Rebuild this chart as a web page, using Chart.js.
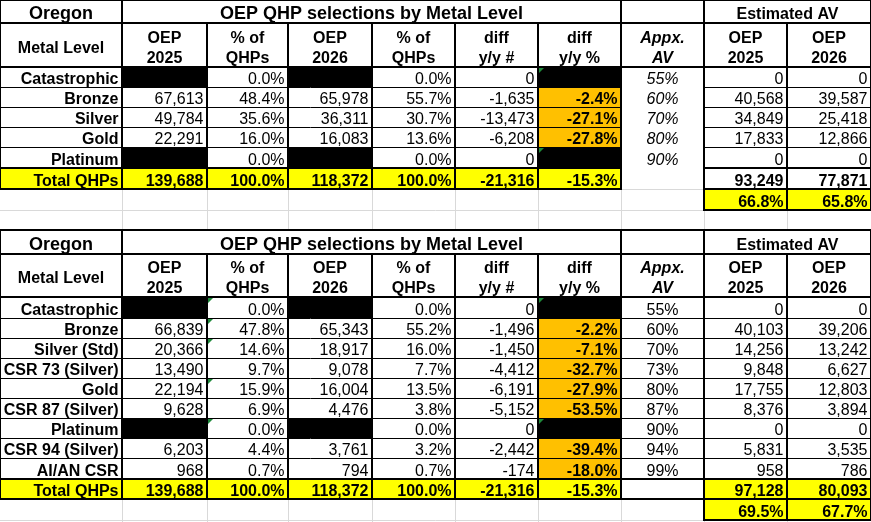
<!DOCTYPE html>
<html>
<head>
<meta charset="utf-8">
<title>Oregon OEP QHP selections by Metal Level</title>
<script src="https://cdn.jsdelivr.net/npm/chart.js@4.4.1/dist/chart.umd.min.js"></script>
<style>
  html, body { margin: 0; padding: 0; background: #fff; }
  #wrap { width: 871px; height: 522px; }
</style>
</head>
<body>
<div id="wrap"><canvas id="sheet" width="871" height="522"></canvas></div>
<script>
// ---- text ----
const stateName = "Oregon";
const tableTitle = "OEP QHP selections by Metal Level";
const avTitle = "Estimated AV";
const totalLabel = "Total QHPs";
const columnHeads = [
  ["Metal Level"], ["OEP", "2025"], ["% of", "QHPs"], ["OEP", "2026"], ["% of", "QHPs"],
  ["diff", "y/y #"], ["diff", "y/y %"], ["Appx.", "AV"], ["OEP", "2025"], ["OEP", "2026"]
];

// ---- upper table (by metal level) ----
const levelsTop = ["Catastrophic", "Bronze", "Silver", "Gold", "Platinum"];
const oep2025Top = [null, 67613, 49784, 22291, null];
const share2025Top = [0.0, 48.4, 35.6, 16.0, 0.0];
const oep2026Top = [null, 65978, 36311, 16083, null];
const share2026Top = [0.0, 55.7, 30.7, 13.6, 0.0];
const diffNumTop = [0, -1635, -13473, -6208, 0];
const diffPctTop = [null, -2.4, -27.1, -27.8, null];
const appxAVTop = [55, 60, 70, 80, 90];
const estAV2025Top = [0, 40568, 34849, 17833, 0];
const estAV2026Top = [0, 39587, 25418, 12866, 0];
const totalsTop = [139688, 100.0, 118372, 100.0, -21316, -15.3];
const estAVTotalsTop = [93249, 77871];
const avShareTop = [66.8, 65.8];

// ---- lower table (CSR split out) ----
const levelsBottom = ["Catastrophic", "Bronze", "Silver (Std)", "CSR 73 (Silver)", "Gold",
  "CSR 87 (Silver)", "Platinum", "CSR 94 (Silver)", "AI/AN CSR"];
const oep2025Bottom = [null, 66839, 20366, 13490, 22194, 9628, null, 6203, 968];
const share2025Bottom = [0.0, 47.8, 14.6, 9.7, 15.9, 6.9, 0.0, 4.4, 0.7];
const oep2026Bottom = [null, 65343, 18917, 9078, 16004, 4476, null, 3761, 794];
const share2026Bottom = [0.0, 55.2, 16.0, 7.7, 13.5, 3.8, 0.0, 3.2, 0.7];
const diffNumBottom = [0, -1496, -1450, -4412, -6191, -5152, 0, -2442, -174];
const diffPctBottom = [null, -2.2, -7.1, -32.7, -27.9, -53.5, null, -39.4, -18.0];
const appxAVBottom = [55, 60, 70, 73, 80, 87, 90, 94, 99];
const estAV2025Bottom = [0, 40103, 14256, 9848, 17755, 8376, 0, 5831, 958];
const estAV2026Bottom = [0, 39206, 13242, 6627, 12803, 3894, 0, 3535, 786];
const totalsBottom = [139688, 100.0, 118372, 100.0, -21316, -15.3];
const estAVTotalsBottom = [97128, 80093];
const avShareBottom = [69.5, 67.7];

// ---- layout (sheet units = px) ----
const colEdges = [0, 122, 207, 288, 372, 455, 538, 621, 704, 787, 871];
const rowEdgesTop = [0, 23, 67, 87, 107, 127, 147, 168, 189, 210, 230];
const rowEdgesBottom = [230, 254, 297, 318, 338, 358, 378, 398, 418, 438, 458, 479, 499, 520];

const YELLOW = "#ffff00", ORANGE = "#ffc000", BLACK = "#000000", WHITE = "#ffffff";
const GRID = "#d9d9d9", FLAG = "#1f8a3b";
const FAMILY = "'Liberation Sans', Arial, sans-serif";
const TH = 2, TN = 1;

const tables = [
  {
    levels: levelsTop, oep2025: oep2025Top, share2025: share2025Top, oep2026: oep2026Top,
    share2026: share2026Top, diffNum: diffNumTop, diffPct: diffPctTop, appxAV: appxAVTop,
    estAV2025: estAV2025Top, estAV2026: estAV2026Top, totals: totalsTop,
    estAVTotals: estAVTotalsTop, avShare: avShareTop,
    rows: rowEdgesTop, italicAV: true, avBorders: false, yellowAVTotals: false,
    flags: [[0, 6], [4, 6]]
  },
  {
    levels: levelsBottom, oep2025: oep2025Bottom, share2025: share2025Bottom, oep2026: oep2026Bottom,
    share2026: share2026Bottom, diffNum: diffNumBottom, diffPct: diffPctBottom, appxAV: appxAVBottom,
    estAV2025: estAV2025Bottom, estAV2026: estAV2026Bottom, totals: totalsBottom,
    estAVTotals: estAVTotalsBottom, avShare: avShareBottom,
    rows: rowEdgesBottom, italicAV: false, avBorders: true, yellowAVTotals: true,
    flags: [[0, 2], [1, 2], [2, 2], [4, 2], [6, 2], [0, 6], [6, 6]]
  }
];

const num = (v) => v.toLocaleString("en-US");
const pct = (v) => v.toFixed(1) + "%";

function buildTable(t) {
  const R = t.rows, C = colEdges;
  const n = t.levels.length;
  const tTop = 2 + n, tBot = 3 + n, sBot = 4 + n;
  const cells = [];
  const add = (c0, c1, r0, r1, text, opts = {}) =>
    cells.push(Object.assign({
      x0: C[c0], x1: C[c1], y0: R[r0], y1: R[r1], text,
      font: "16px", align: "right", fill: WHITE, kind: "data"
    }, opts));

  add(0, 1, 0, 1, [stateName], { font: "bold 18px", align: "center", kind: "title" });
  add(1, 7, 0, 1, [tableTitle], { font: "bold 18px", align: "center", kind: "title" });
  add(7, 8, 0, 1, []);
  add(8, 10, 0, 1, [avTitle], { font: "bold 16px", align: "center", kind: "title" });
  columnHeads.forEach((h, i) =>
    add(i, i + 1, 1, 2, h, { font: i === 7 ? "italic bold 16px" : "bold 16px", align: "center", kind: "head" }));

  t.levels.forEach((lvl, i) => {
    const r = 2 + i;
    const blankOr = (v, fmt, opts) => (v == null ? [[], { fill: BLACK }] : [[fmt(v)], opts || {}]);
    add(0, 1, r, r + 1, [lvl], { font: "bold 16px" });
    add(1, 2, r, r + 1, ...blankOr(t.oep2025[i], num));
    add(2, 3, r, r + 1, [pct(t.share2025[i])]);
    add(3, 4, r, r + 1, ...blankOr(t.oep2026[i], num));
    add(4, 5, r, r + 1, [pct(t.share2026[i])]);
    add(5, 6, r, r + 1, [num(t.diffNum[i])]);
    add(6, 7, r, r + 1, ...blankOr(t.diffPct[i], pct, { fill: ORANGE, font: "bold 16px" }));
    add(7, 8, r, r + 1, [t.appxAV[i] + "%"], { align: "center", font: t.italicAV ? "italic 16px" : "16px" });
    add(8, 9, r, r + 1, [num(t.estAV2025[i])]);
    add(9, 10, r, r + 1, [num(t.estAV2026[i])]);
  });

  add(0, 1, tTop, tBot, [totalLabel], { font: "bold 16px", fill: YELLOW });
  t.totals.forEach((v, i) =>
    add(i + 1, i + 2, tTop, tBot, [i % 2 === 1 ? pct(v) : num(v)], { font: "bold 16px", fill: YELLOW }));
  add(7, 8, tTop, tBot, []);
  t.estAVTotals.forEach((v, i) =>
    add(8 + i, 9 + i, tTop, tBot, [num(v)], { font: "bold 16px", fill: t.yellowAVTotals ? YELLOW : WHITE }));
  t.avShare.forEach((v, i) =>
    add(8 + i, 9 + i, tBot, sBot, [pct(v)], { font: "bold 16px", fill: YELLOW }));

  // borders
  const lines = [];
  const h = (c0, c1, r, w) => lines.push([C[c0], R[r], C[c1], R[r], w]);
  const v = (c, r0, r1, w) => lines.push([C[c], R[r0], C[c], R[r1], w]);
  [0, 1, 7, 8, 10].forEach((c) => v(c, 0, tBot, TH));
  [2, 3, 4, 5, 6, 9].forEach((c) => v(c, 1, tBot, TH));
  [8, 9, 10].forEach((c) => v(c, tBot, sBot, TH));
  [0, 1, 2].forEach((r) => h(0, 10, r, TH));
  [tTop, tBot].forEach((r) => {
    h(0, 7, r, TH); h(8, 10, r, TH);
    if (t.avBorders) h(7, 8, r, TH);
  });
  for (let r = 3; r < tTop; r++) {
    h(0, 7, r, TN); h(8, 10, r, TN);
    if (t.avBorders) h(7, 8, r, TN);
  }
  h(8, 10, sBot, TH);
  return { cells, lines };
}

const sheetPlugin = {
  id: "sheet",
  beforeDraw(chart) {
    const ctx = chart.ctx;
    ctx.save();
    ctx.fillStyle = WHITE;
    ctx.fillRect(0, 0, chart.width, chart.height);
    ctx.restore();
  },
  afterDraw(chart) {
    const { ctx, scales: { x, y } } = chart;
    const px = (v) => x.getPixelForValue(v);
    const py = (v) => y.getPixelForValue(v);
    const built = tables.map(buildTable);
    ctx.save();

    // sheet gridlines
    ctx.strokeStyle = GRID;
    ctx.lineWidth = 1;
    ctx.beginPath();
    colEdges.slice(1, -1).forEach((c) => {
      const xx = Math.round(px(c)) + 0.5;
      ctx.moveTo(xx, py(0)); ctx.lineTo(xx, py(522));
    });
    rowEdgesTop.concat(rowEdgesBottom).forEach((r) => {
      const yy = Math.round(py(r)) + 0.5;
      ctx.moveTo(px(0), yy); ctx.lineTo(px(871), yy);
    });
    ctx.stroke();

    // fills
    built.forEach(({ cells }) => cells.forEach((c) => {
      ctx.fillStyle = c.fill;
      ctx.fillRect(px(c.x0), py(c.y0), px(c.x1) - px(c.x0), py(c.y1) - py(c.y0));
    }));

    // error-indicator flags
    ctx.fillStyle = FLAG;
    tables.forEach((t) => t.flags.forEach(([r, c]) => {
      const x0 = px(colEdges[c]) + 1, y0 = py(t.rows[2 + r]) + 1;
      ctx.beginPath();
      ctx.moveTo(x0, y0); ctx.lineTo(x0 + 5, y0); ctx.lineTo(x0, y0 + 5);
      ctx.closePath();
      ctx.fill();
    }));

    // borders
    ctx.strokeStyle = BLACK;
    ctx.lineCap = "square";
    const segs = built.flatMap((b) => b.lines).sort((a, b) => a[4] - b[4]);
    segs.forEach(([x0, y0, x1, y1, w]) => {
      const off = w % 2 === 1 ? 0.5 : 0;
      ctx.lineWidth = w;
      ctx.beginPath();
      if (y0 === y1) {
        const yy = Math.round(py(y0)) + off;
        ctx.moveTo(px(x0), yy); ctx.lineTo(px(x1), yy);
      } else {
        const xx = Math.round(px(x0)) + off;
        ctx.moveTo(xx, py(y0)); ctx.lineTo(xx, py(y1));
      }
      ctx.stroke();
    });

    // text
    ctx.fillStyle = BLACK;
    ctx.textBaseline = "alphabetic";
    built.forEach(({ cells }) => cells.forEach((c) => {
      if (!c.text.length) return;
      ctx.font = c.font + " " + FAMILY;
      ctx.textAlign = c.align;
      const tx = c.align === "right" ? px(c.x1) - 3.5 : (px(c.x0) + px(c.x1)) / 2;
      const yb = py(c.y1);
      let bases;
      if (c.kind === "title") bases = [yb - 4.5];
      else if (c.kind === "head") bases = c.text.length === 2 ? [yb - 24, yb - 4] : [yb - 14];
      else bases = [yb - 3];
      c.text.forEach((s, i) => ctx.fillText(s, tx, bases[i]));
    }));
    ctx.restore();
  }
};

new Chart(document.getElementById("sheet"), {
  type: "scatter",
  data: { datasets: [] },
  options: {
    responsive: false,
    animation: false,
    events: [],
    layout: { padding: 0 },
    plugins: { legend: { display: false }, tooltip: { enabled: false } },
    scales: {
      x: { type: "linear", min: 0, max: 871, display: false },
      y: { type: "linear", min: 0, max: 522, reverse: true, display: false }
    }
  },
  plugins: [sheetPlugin]
});
</script>
</body>
</html>
